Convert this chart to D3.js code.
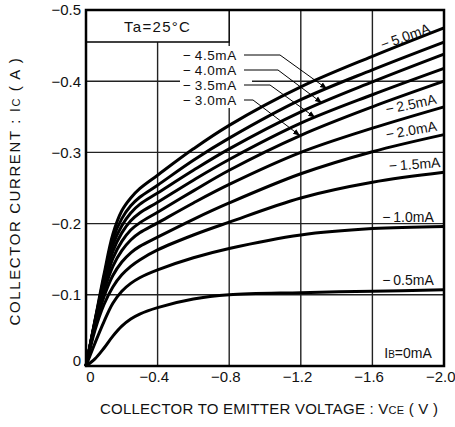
<!DOCTYPE html>
<html>
<head>
<meta charset="utf-8">
<script src="https://cdn.jsdelivr.net/npm/d3@7"></script>
<style>
  body { margin: 0; background: #fff; }
  text { font-family: "Liberation Sans", Arial, sans-serif; fill: #111; }
</style>
</head>
<body>
<div id="chart"></div>
<script>
// collector-emitter voltage samples (V)
var vce = [0, -0.05, -0.1, -0.15, -0.2, -0.25, -0.3, -0.4, -0.6, -0.8, -1.2, -1.6, -2.0];

// collector current (A) for each base current
var ib50 = [0, -0.064, -0.128, -0.185, -0.218, -0.236, -0.249, -0.268, -0.305, -0.338, -0.392, -0.435, -0.475];
var ib45 = [0, -0.063, -0.124, -0.178, -0.207, -0.225, -0.237, -0.254, -0.289, -0.320, -0.374, -0.416, -0.455];
var ib40 = [0, -0.062, -0.120, -0.170, -0.197, -0.215, -0.227, -0.243, -0.275, -0.305, -0.357, -0.399, -0.438];
var ib35 = [0, -0.061, -0.116, -0.161, -0.187, -0.204, -0.215, -0.230, -0.261, -0.290, -0.341, -0.381, -0.418];
var ib30 = [0, -0.060, -0.111, -0.151, -0.175, -0.191, -0.201, -0.216, -0.246, -0.275, -0.324, -0.364, -0.400];
var ib25 = [0, -0.058, -0.105, -0.140, -0.162, -0.177, -0.187, -0.201, -0.229, -0.255, -0.300, -0.334, -0.364];
var ib20 = [0, -0.055, -0.097, -0.127, -0.146, -0.159, -0.168, -0.181, -0.206, -0.229, -0.270, -0.301, -0.325];
var ib15 = [0, -0.050, -0.086, -0.111, -0.128, -0.140, -0.149, -0.163, -0.184, -0.202, -0.236, -0.258, -0.272];
var ib10 = [0, -0.032, -0.062, -0.088, -0.105, -0.116, -0.124, -0.135, -0.152, -0.165, -0.184, -0.193, -0.196];
var ib05 = [0, -0.010, -0.025, -0.042, -0.056, -0.066, -0.073, -0.082, -0.094, -0.100, -0.103, -0.105, -0.107];

var series = [ib50, ib45, ib40, ib35, ib30, ib25, ib20, ib15, ib10, ib05];

var xTicks = [0, -0.4, -0.8, -1.2, -1.6, -2.0];
var yTicks = [0, -0.1, -0.2, -0.3, -0.4, -0.5];

var margin = {top: 10, right: 11, bottom: 61, left: 86},
    width = 455 - margin.left - margin.right,
    height = 427 - margin.top - margin.bottom;

var svg = d3.select("#chart")
  .append("svg")
    .attr("width", 455)
    .attr("height", 427)
  .append("g")
    .attr("transform", "translate(" + margin.left + "," + margin.top + ")");

var x = d3.scaleLinear().domain([0, -2.0]).range([0, width]);
var y = d3.scaleLinear().domain([0, -0.5]).range([height, 0]);

// grid
svg.selectAll(".vgrid")
  .data(xTicks.slice(1, -1))
  .enter().append("line")
    .attr("x1", function(d) { return x(d); })
    .attr("x2", function(d) { return x(d); })
    .attr("y1", 0).attr("y2", height)
    .attr("stroke", "#222").attr("stroke-width", 1.4);

svg.selectAll(".hgrid")
  .data(yTicks.slice(1, -1))
  .enter().append("line")
    .attr("x1", 0).attr("x2", width)
    .attr("y1", function(d) { return y(d); })
    .attr("y2", function(d) { return y(d); })
    .attr("stroke", "#222").attr("stroke-width", 1.4);

// curves
var line = d3.line()
  .x(function(d, i) { return x(vce[i]); })
  .y(function(d) { return y(d); })
  .curve(d3.curveCatmullRom.alpha(0.5));

svg.selectAll(".curve")
  .data(series)
  .enter().append("path")
    .attr("d", line)
    .attr("fill", "none")
    .attr("stroke", "#000")
    .attr("stroke-width", 3)
    .attr("stroke-linejoin", "round");

// Ta box
svg.append("rect")
  .attr("x", 0).attr("y", 0)
  .attr("width", x(-0.8)).attr("height", 32)
  .attr("fill", "#fff").attr("stroke", "#111").attr("stroke-width", 1.6);
svg.append("text")
  .attr("x", x(-0.4)).attr("y", 22)
  .attr("text-anchor", "middle")
  .style("font-size", "15px")
  .style("letter-spacing", "1.3px")
  .text("Ta=25°C");

// left labels with leader lines
function valAt(s, v) {
  for (var i = 1; i < vce.length; i++) {
    if (vce[i] <= v) {
      var t = (v - vce[i - 1]) / (vce[i] - vce[i - 1]);
      return s[i - 1] + t * (s[i] - s[i - 1]);
    }
  }
  return s[s.length - 1];
}

svg.append("rect")
  .attr("x", 94).attr("y", 36)
  .attr("width", 72).attr("height", 62)
  .attr("fill", "#fff");

svg.append("defs").append("marker")
  .attr("id", "arr")
  .attr("viewBox", "0 0 10 10")
  .attr("refX", 10).attr("refY", 5)
  .attr("markerWidth", 7).attr("markerHeight", 7)
  .attr("markerUnits", "userSpaceOnUse")
  .attr("orient", "auto")
  .append("path").attr("d", "M0,1L10,5L0,9Z").attr("fill", "#000");

var leaders = [
  {s: ib45, text: "4.5mA", ly: 45, bx: 194, v: -1.346},
  {s: ib40, text: "4.0mA", ly: 60, bx: 192, v: -1.318},
  {s: ib35, text: "3.5mA", ly: 75, bx: 184, v: -1.28},
  {s: ib30, text: "3.0mA", ly: 90, bx: 167, v: -1.196}
];

leaders.forEach(function(l) {
  svg.append("text")
    .attr("x", 97).attr("y", l.ly + 5)
    .style("font-size", "13.5px")
    .style("letter-spacing", "0.6px")
    .text("\u2212\u2009" + l.text);
  svg.append("polyline")
    .attr("points", [[158, l.ly], [l.bx, l.ly], [x(l.v), y(valAt(l.s, l.v))]].join(" "))
    .attr("fill", "none")
    .attr("stroke", "#000")
    .attr("stroke-width", 1)
    .attr("marker-end", "url(#arr)");
});

// right labels
var rightLabels = [
  {text: "5.0mA", cx: 321, cy: 31, rot: -20},
  {text: "2.5mA", cx: 326, cy: 99, rot: -12},
  {text: "2.0mA", cx: 326, cy: 125, rot: -10},
  {text: "1.5mA", cx: 329, cy: 159, rot: -4},
  {text: "1.0mA", cx: 322, cy: 212, rot: 0},
  {text: "0.5mA", cx: 322, cy: 275, rot: 0}
];

rightLabels.forEach(function(l) {
  svg.append("text")
    .attr("transform", "translate(" + l.cx + "," + l.cy + ") rotate(" + l.rot + ")")
    .attr("text-anchor", "middle")
    .style("font-size", "14px")
    .text("\u2212\u2009" + l.text);
});

var ib0 = svg.append("text")
  .attr("x", 322).attr("y", 348)
  .attr("text-anchor", "middle")
  .style("font-size", "14px");
ib0.append("tspan").text("I");
ib0.append("tspan").style("font-size", "10px").text("B");
ib0.append("tspan").text("=0mA");

// frame
svg.append("rect")
  .attr("width", width).attr("height", height)
  .attr("fill", "none")
  .attr("stroke", "#000")
  .attr("stroke-width", 2.5);

// axes
var fmt = function(d) { return d === 0 ? "0" : d3.format(".1f")(d); };

var yAxis = svg.append("g")
  .call(d3.axisLeft(y).tickValues(yTicks).tickSize(0).tickPadding(5).tickFormat(fmt));
yAxis.select(".domain").remove();
yAxis.selectAll("text")
  .style("font-size", "15px")
  .attr("fill", "#111")
  .attr("dy", function(d) { return d === 0 ? "-0.05em" : "0.32em"; });

var xAxis = svg.append("g")
  .attr("transform", "translate(0," + height + ")")
  .call(d3.axisBottom(x).tickValues(xTicks).tickSize(0).tickPadding(5).tickFormat(fmt));
xAxis.select(".domain").remove();
xAxis.selectAll("text")
  .style("font-size", "15px")
  .attr("fill", "#111")
  .attr("text-anchor", "end")
  .attr("dx", function(d) { return d === 0 ? 8 : 11; });

// axis titles
var xt = svg.append("text")
  .attr("x", 14).attr("y", 404)
  .attr("textLength", 338)
  .attr("lengthAdjust", "spacing")
  .style("font-size", "15px");
xt.append("tspan").text("COLLECTOR TO EMITTER VOLTAGE : V");
xt.append("tspan").style("font-size", "11px").text("CE");
xt.append("tspan").text(" ( V )");

var yt = svg.append("text")
  .attr("transform", "translate(-66," + (height / 2 + 3) + ") rotate(-90)")
  .attr("text-anchor", "middle")
  .style("font-size", "15px")
  .style("letter-spacing", "1.6px");
yt.append("tspan").text("COLLECTOR CURRENT : I");
yt.append("tspan").style("font-size", "11px").text("C");
yt.append("tspan").text(" ( A )");
</script>
</body>
</html>
